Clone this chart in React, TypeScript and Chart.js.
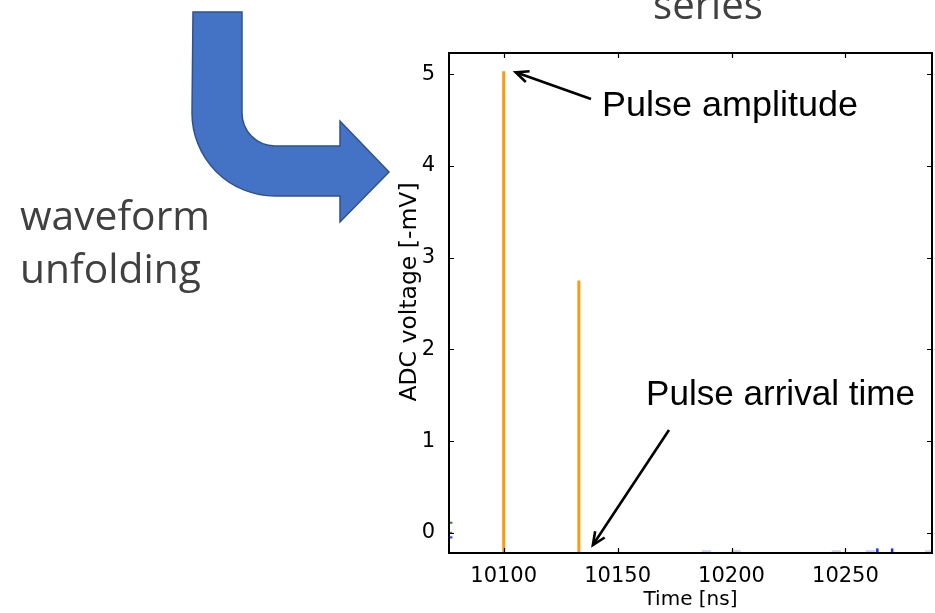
import React, { useEffect, useRef } from "react";
import { Chart, registerables } from "chart.js";

Chart.register(...registerables);

// ---- data ----
const pulseTimes = [10100, 10133];
const pulseAmplitudes = [5.03, 2.75];
const pulseBase = -0.22;

const xTickValues = [10100, 10150, 10200, 10250];
const yTickValues = [0, 1, 2, 3, 4, 5];
const xRange = [10076, 10288];
const yRange = [-0.22, 5.23];

// small stray traces of other channels visible at the edges
const greenTraceX = [10070, 10077.5];
const greenTraceY = [0.11, 0.11];
const tealTraceX = [10070, 10077.5];
const tealTraceY = [0.0, 0.0];
const blueTraceX = [10070, 10077.5];
const blueTraceY = [-0.05, -0.05];
const faintBlueStarts = [10187, 10200, 10244, 10259, 10285];
const faintBlueEnds = [10191, 10204, 10248, 10263, 10290];
const faintBlueLevel = -0.2;
const darkBlueTimes = [10264, 10270.5];
const darkBlueLow = -0.22;
const darkBlueHigh = -0.17;

const xTitle = "Time [ns]";
const yTitle = "ADC voltage [-mV]";
const slideTexts = ["waveform", "unfolding"];
const topText = "series";
const annotationTexts = ["Pulse amplitude", "Pulse arrival time"];

function fitFont(ctx: CanvasRenderingContext2D, text: string, family: string, target: number, weight = "normal") {
  ctx.font = `${weight} 40px ${family}`;
  const w = ctx.measureText(text).width;
  const size = (40 * target) / w;
  return `${weight} ${size.toFixed(2)}px ${family}`;
}

function arrow(ctx: CanvasRenderingContext2D, x0: number, y0: number, x1: number, y1: number) {
  ctx.save();
  ctx.strokeStyle = "#000";
  ctx.lineWidth = 2.6;
  ctx.lineCap = "butt";
  ctx.beginPath();
  ctx.moveTo(x0, y0);
  ctx.lineTo(x1, y1);
  ctx.stroke();
  const a = Math.atan2(y1 - y0, x1 - x0);
  const L = 14;
  const spread = 0.42;
  ctx.beginPath();
  ctx.moveTo(x1 - L * Math.cos(a - spread), y1 - L * Math.sin(a - spread));
  ctx.lineTo(x1, y1);
  ctx.lineTo(x1 - L * Math.cos(a + spread), y1 - L * Math.sin(a + spread));
  ctx.stroke();
  ctx.restore();
}

const decorPlugin = {
  id: "decor",
  beforeDraw(chart: any) {
    const ctx = chart.ctx as CanvasRenderingContext2D;
    ctx.save();
    ctx.fillStyle = "#fff";
    ctx.fillRect(0, 0, chart.width, chart.height);

    // bent blue arrow
    ctx.beginPath();
    ctx.moveTo(193, 12);
    ctx.lineTo(242, 12);
    ctx.lineTo(242, 113);
    ctx.arc(275, 113, 33, Math.PI, Math.PI / 2, true);
    ctx.lineTo(340, 146);
    ctx.lineTo(340, 121);
    ctx.lineTo(389, 172);
    ctx.lineTo(340, 222);
    ctx.lineTo(340, 196);
    ctx.lineTo(275, 196);
    ctx.arc(275, 113, 83, Math.PI / 2, Math.PI, false);
    ctx.closePath();
    ctx.fillStyle = "#4472C4";
    ctx.fill();
    ctx.strokeStyle = "#2F528F";
    ctx.lineWidth = 1.5;
    ctx.stroke();

    // slide texts
    ctx.fillStyle = "#404040";
    ctx.textBaseline = "alphabetic";
    ctx.textAlign = "left";
    ctx.font = fitFont(ctx, slideTexts[0], "'Open Sans'", 190);
    ctx.fillText(slideTexts[0], 20, 230);
    ctx.fillText(slideTexts[1], 20, 283);
    ctx.font = fitFont(ctx, topText, "'Open Sans'", 110);
    ctx.fillText(topText, 653, 19);
    ctx.restore();
  },
  afterDraw(chart: any) {
    const ctx = chart.ctx as CanvasRenderingContext2D;
    const { left, right, top, bottom } = chart.chartArea;
    const xs = chart.scales.x;
    const ys = chart.scales.y;
    ctx.save();
    ctx.strokeStyle = "#000";
    ctx.lineWidth = 2;
    ctx.strokeRect(left, top, right - left, bottom - top);
    ctx.lineWidth = 1.2;
    ctx.beginPath();
    for (const v of xTickValues) {
      const px = Math.round(xs.getPixelForValue(v)) + 0.5;
      ctx.moveTo(px, bottom);
      ctx.lineTo(px, bottom - 5);
      ctx.moveTo(px, top);
      ctx.lineTo(px, top + 5);
    }
    for (const v of yTickValues) {
      const py = Math.round(ys.getPixelForValue(v)) + 0.5;
      ctx.moveTo(left, py);
      ctx.lineTo(left + 5, py);
      ctx.moveTo(right, py);
      ctx.lineTo(right - 5, py);
    }
    ctx.stroke();

    // y axis title (rotated)
    ctx.save();
    ctx.fillStyle = "#000";
    ctx.font = "23.5px 'DejaVu Sans'";
    ctx.textAlign = "center";
    ctx.textBaseline = "alphabetic";
    ctx.translate(416, (top + bottom) / 2 - 11);
    ctx.rotate(-Math.PI / 2);
    ctx.fillText(yTitle, 0, 0);
    ctx.restore();

    // annotations
    ctx.fillStyle = "#000";
    ctx.textAlign = "left";
    ctx.textBaseline = "alphabetic";
    ctx.font = fitFont(ctx, annotationTexts[0], "'Liberation Sans'", 256);
    ctx.fillText(annotationTexts[0], 602, 116);
    ctx.font = fitFont(ctx, annotationTexts[1], "'Liberation Sans'", 269);
    ctx.fillText(annotationTexts[1], 646, 405);

    const p1x = xs.getPixelForValue(pulseTimes[0]);
    const p1y = ys.getPixelForValue(pulseAmplitudes[0]);
    arrow(ctx, 591, 99, p1x + 12, p1y + 1);
    const p2x = xs.getPixelForValue(pulseTimes[1]);
    arrow(ctx, 669, 430, p2x + 14, bottom - 8);
    ctx.restore();
  },
};

function seg(xa: number[], ya: number[]) {
  return xa.map((x, i) => ({ x, y: ya[i] }));
}

export default function App() {
  const ref = useRef<HTMLCanvasElement>(null);
  useEffect(() => {
    const canvas = ref.current!;
    const datasets: any[] = [];
    pulseTimes.forEach((t, i) => {
      datasets.push({
        label: `pulse ${i + 1}`,
        data: [
          { x: t, y: pulseBase },
          { x: t, y: pulseAmplitudes[i] },
        ],
        borderColor: "#FF9A0E",
        borderWidth: 3,
        showLine: true,
        pointRadius: 0,
      });
    });
    datasets.push({ label: "g", data: seg(greenTraceX, greenTraceY), borderColor: "#1a8a1a", borderWidth: 2, showLine: true, pointRadius: 0 });
    datasets.push({ label: "t", data: seg(tealTraceX, tealTraceY), borderColor: "#3a7fb0", borderWidth: 2, showLine: true, pointRadius: 0 });
    datasets.push({ label: "b", data: seg(blueTraceX, blueTraceY), borderColor: "#2040ff", borderWidth: 2, showLine: true, pointRadius: 0 });
    faintBlueStarts.forEach((s, i) => {
      datasets.push({
        label: `fb${i}`,
        data: [
          { x: s, y: faintBlueLevel },
          { x: faintBlueEnds[i], y: faintBlueLevel },
        ],
        borderColor: "rgba(120,140,255,0.4)",
        borderWidth: 2,
        showLine: true,
        pointRadius: 0,
      });
    });
    darkBlueTimes.forEach((t, i) => {
      datasets.push({
        label: `db${i}`,
        data: [
          { x: t, y: darkBlueLow },
          { x: t, y: darkBlueHigh },
        ],
        borderColor: "#1030ff",
        borderWidth: 2.5,
        showLine: true,
        pointRadius: 0,
      });
    });

    const chart = new Chart(canvas, {
      type: "scatter",
      data: { datasets },
      plugins: [decorPlugin],
      options: {
        animation: false,
        responsive: false,
        devicePixelRatio: 1,
        layout: { padding: { left: 398, top: 53, right: 3, bottom: 0 } },
        plugins: { legend: { display: false }, tooltip: { enabled: false } },
        scales: {
          x: {
            type: "linear",
            min: xRange[0],
            max: xRange[1],
            grid: { display: false },
            border: { display: false },
            afterFit: (s: any) => {
              s.height = 60;
            },
            afterBuildTicks: (s: any) => {
              s.ticks = xTickValues.map((v) => ({ value: v }));
            },
            ticks: {
              color: "#000",
              padding: 3,
              maxRotation: 0,
              font: { family: "'DejaVu Sans'", size: 21 },
              callback: (v: any) => String(v),
            },
            title: {
              display: true,
              text: xTitle,
              color: "#000",
              font: { family: "'DejaVu Sans'", size: 20 },
              padding: { top: 0, bottom: 1 },
            },
          },
          y: {
            type: "linear",
            min: yRange[0],
            max: yRange[1],
            grid: { display: false },
            border: { display: false },
            afterFit: (s: any) => {
              s.width = 51;
            },
            afterBuildTicks: (s: any) => {
              s.ticks = yTickValues.map((v) => ({ value: v }));
            },
            ticks: {
              color: "#000",
              padding: 6,
              font: { family: "'DejaVu Sans'", size: 21 },
              callback: (v: any) => String(v),
            },
            title: { display: false },
          },
        },
      },
    });
    return () => chart.destroy();
  }, []);
  return (
    <div style={{ position: "fixed", left: 0, top: 0, width: 935, height: 613, background: "#fff" }}>
      <canvas ref={ref} width={935} height={613} style={{ display: "block" }} />
    </div>
  );
}
